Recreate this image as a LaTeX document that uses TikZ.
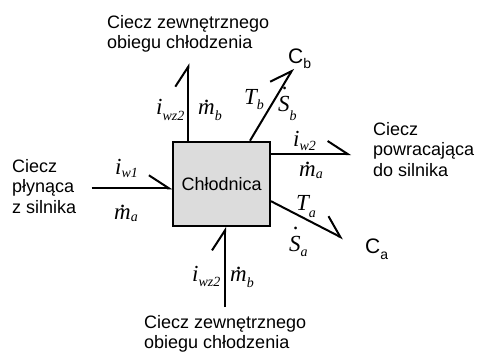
\documentclass[tikz,border=0pt]{standalone}
\usepackage{fontspec}
\setmainfont{Liberation Sans}
\newfontfamily\tms{Liberation Serif}
\usetikzlibrary{arrows.meta,calc}
\newcommand\subs[2]{\raisebox{-#1pt}{\fontsize{14}{14}\selectfont #2}}
\newcommand\dotm{\ooalign{m\cr\hidewidth\kern1.5pt\raisebox{12pt}{.}\hidewidth\cr}}
\newcommand\dotS{\ooalign{S\cr\hidewidth\kern2.5pt\raisebox{22pt}{.}\hidewidth\cr}}
\definecolor{boxgray}{RGB}{220,220,220}
\begin{document}
\begin{tikzpicture}[x=1pt,y=-1pt,
  lbl/.style={font=\fontsize{18}{20.5}\selectfont, inner sep=0, anchor=base west},
  cfont/.style={font=\fontsize{21}{21}\selectfont, inner sep=0, anchor=base west},
  mth/.style={font=\fontsize{23}{23}\selectfont\tms\itshape, inner sep=0, anchor=base west},
  arr/.style={line width=2pt, -{Straight Barb[harpoon,length=20pt,width=26pt]}},
  cooler/.style={draw, line width=2pt, fill=boxgray, minimum width=96.7pt,
    minimum height=84.3pt, inner sep=0, font=\fontsize{18}{20}\selectfont}]
\useasboundingbox (0,0) rectangle (479,351);

\node[cooler] (box) at (221.65,183.85) {Chłodnica};

% texts
\node[lbl] (toptxt) at (107,28) {\vtop{\hbox{Ciecz zewnętrznego}\hbox{obiegu chłodzenia}}};
\node[lbl] (lefttxt) at (12,172) {\vtop{\hbox{Ciecz}\hbox{płynąca}\hbox{z silnika}}};
\node[lbl] (righttxt) at (373,135) {\vtop{\hbox{Ciecz}\hbox{powracająca}\hbox{do silnika}}};
\node[lbl] (bottxt) at (144,328) {\vtop{\hbox{Ciecz zewnętrznego}\hbox{obiegu chłodzenia}}};
\node[cfont] (cb) at (288,63) {C\subs{5}{b}};
\node[cfont] (ca) at (365,253) {C\subs{6}{a}};

% math labels
\node[mth] (iwz2t) at (156,114.7) {i\subs{6}{wz2}};
\node[mth] (mbt) at (198,114.7) {\dotm\subs{6}{b}};
\node[mth] (tb) at (244,104) {T\subs{5}{b}};
\node[mth] (sb) at (278,111.7) {\dotS\subs{9}{b}};
\node[mth] (iw2) at (293,146) {i\subs{4}{w2}};
\node[mth] (mar) at (299,176.7) {\dotm\subs{2}{a}};
\node[mth] (ta) at (296,210.5) {T\subs{7}{a}};
\node[mth] (sa) at (289,251) {\dotS\subs{5}{a}};
\node[mth] (iw1) at (115,174.5) {i\subs{3}{w1}};
\node[mth] (mal) at (114,219) {\dotm\subs{2}{a}};
\node[mth] (iwz2b) at (192,281.7) {i\subs{5}{wz2}};
\node[mth] (mbb) at (230,281.7) {\dotm\subs{6}{b}};

% connectors
\coordinate (topend) at (188.3,63.3);
\draw[arr] (topend |- box.north) -- (topend);
\coordinate (cbs) at ($(box.north west)+(77.7,0)$);
\coordinate (cbtip) at (293.3,68.3);
\draw[arr] (cbs) -- (cbtip);
\coordinate (rtip) at (351,154);
\draw[arr] (rtip -| box.east) -- (rtip);
\coordinate (cas) at ($(box.north east)+(0,60.5)$);
\coordinate (catip) at (343.3,238.5);
\draw[arr] (cas) -- (catip);
\coordinate (lstart) at (91.7,188.3);
\draw[arr] (lstart) -- (lstart -| box.west);
\coordinate (bstart) at (225,307);
\draw[arr] (bstart) -- (bstart |- box.south);
\end{tikzpicture}
\end{document}
